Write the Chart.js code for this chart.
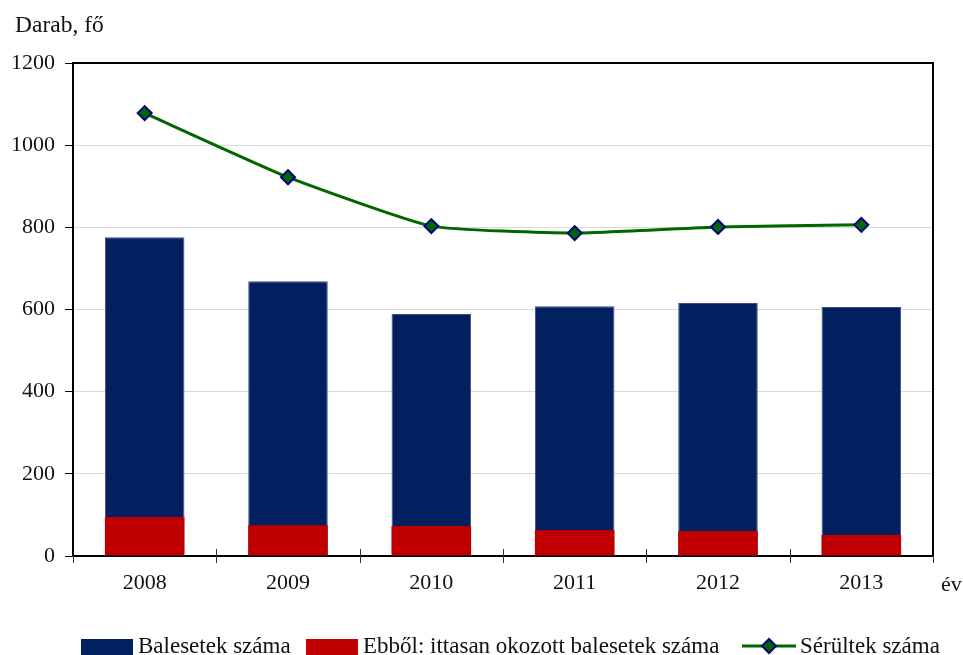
<!DOCTYPE html>
<html><head><meta charset="utf-8">
<script src="https://cdn.jsdelivr.net/npm/chart.js@4"></script>
<style>
html,body{margin:0;padding:0;background:#fff;}
#wrap{position:relative;width:963px;height:655px;font-family:"Liberation Serif",serif;color:#111;overflow:hidden;}
#c{position:absolute;left:0;top:0;}
.lbl{position:absolute;font-size:23px;line-height:23px;white-space:nowrap;}
.sw{position:absolute;width:52px;height:17px;top:639px;}
</style></head>
<body><div id="wrap">
<canvas id="c" width="963" height="655"></canvas>
<div class="lbl" style="left:15px;top:13px;font-size:23.5px;">Darab, fő</div>
<div class="lbl" style="left:941px;top:572px;font-size:22px;">év</div>
<span class="sw" style="left:81px;background:#022060"></span>
<div class="lbl" style="left:138px;top:634px;">Balesetek száma</div>
<span class="sw" style="left:306px;background:#C00000"></span>
<div class="lbl" style="left:363px;top:634px;">Ebből: ittasan okozott balesetek száma</div>
<svg style="position:absolute;left:742px;top:637px" width="56" height="20"><line x1="0" y1="9" x2="54" y2="9" stroke="#006600" stroke-width="3"/><polygon points="27,2 34,9 27,16 20,9" fill="#006600" stroke="#000080" stroke-width="2"/></svg>
<div class="lbl" style="left:800px;top:634px;">Sérültek száma</div>
</div>
<script>
const categories = ["2008","2009","2010","2011","2012","2013"];
const accidents = [776, 669, 589, 608, 616, 606];
const drunkAccidents = [95, 75, 73, 63, 61, 51];
const injured = [1078, 922, 803, 786, 801, 806];
const yTicks = [0, 200, 400, 600, 800, 1000, 1200];

const frame = {
  id:'frame',
  afterDatasetsDraw(chart){
    const {ctx, chartArea:a} = chart;
    const xs = chart.scales.x;
    ctx.save();
    ctx.strokeStyle = '#000';
    ctx.lineWidth = 2;
    ctx.beginPath();
    ctx.moveTo(a.left, a.top); ctx.lineTo(a.right, a.top); ctx.lineTo(a.right, a.bottom);
    ctx.stroke();
    // category boundary tick marks crossing the x axis
    ctx.lineWidth = 1;
    ctx.strokeStyle = '#333';
    const n = xs.ticks.length;
    const w = (xs.getPixelForValue(1) - xs.getPixelForValue(0));
    for (let i = 0; i <= n; i++) {
      const x = Math.round(xs.getPixelForValue(0) - w/2 + i*w) + 0.5;
      ctx.beginPath();
      ctx.moveTo(x, (i===0||i===n) ? a.bottom : a.bottom - 7);
      ctx.lineTo(x, a.bottom + 7);
      ctx.stroke();
    }
    ctx.restore();
  }
};

new Chart(document.getElementById('c'), {
  type:'bar',
  data:{
    labels:categories,
    datasets:[
      {type:'line', label:'Sérültek száma', data:injured, borderColor:'#006600', borderWidth:3,
       backgroundColor:'#006600', pointStyle:'rectRot', pointRadius:7, pointHoverRadius:7,
       pointBackgroundColor:'#006600', pointBorderColor:'#000080', pointBorderWidth:2,
       tension:0.15, order:0},
      {label:'Ebből: ittasan okozott balesetek száma', data:drunkAccidents, backgroundColor:'#C00000',
       grouped:false, categoryPercentage:1, barPercentage:0.555, order:1},
      {label:'Balesetek száma', data:accidents, backgroundColor:'#022060',
       borderColor:'#3a4f86', borderWidth:{top:1,left:1,right:1,bottom:0},
       grouped:false, categoryPercentage:1, barPercentage:0.555, order:2}
    ]
  },
  options:{
    responsive:false, animation:false,
    layout:{padding:{left:0,right:30,top:63,bottom:0}},
    plugins:{legend:{display:false}, tooltip:{enabled:false}, title:{display:false}},
    scales:{
      x:{
        grid:{drawOnChartArea:false, drawTicks:false, offset:true},
        border:{display:true, color:'#000', width:2},
        ticks:{font:{family:'Liberation Serif', size:22}, color:'#111', padding:14},
        afterFit(s){ s.height = 99; }
      },
      y:{
        min:0, max:1200,
        afterBuildTicks(s){ s.ticks = yTicks.map(v=>({value:v})); },
        grid:{color:'#d9d9d9', lineWidth:1, tickLength:8, tickColor:'#000'},
        border:{display:true, color:'#000', width:2},
        ticks:{font:{family:'Liberation Serif', size:22}, color:'#111', padding:10,
               callback:(v)=>String(v)},
        afterFit(s){ s.width = 73; }
      }
    }
  },
  plugins:[frame]
});
</script>
</body></html>
